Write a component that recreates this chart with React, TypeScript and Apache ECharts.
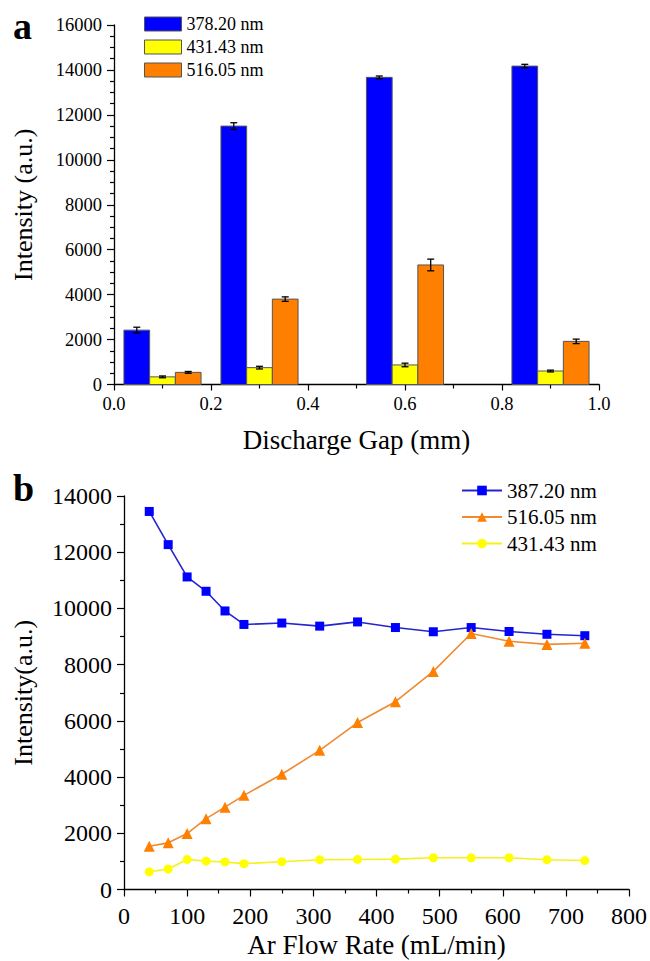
import React, { useEffect, useRef } from 'react';
import * as echarts from 'echarts';

const FONT = 'Liberation Serif';

// Panel a: discharge gap (mm)
const gaps = [0.1, 0.3, 0.6, 0.9];
const v378 = [2420, 11500, 13670, 14170];
const e378 = [130, 150, 60, 80];
const v431 = [340, 750, 870, 600];
const e431 = [40, 60, 80, 40];
const v516 = [540, 3800, 5320, 1920];
const e516 = [40, 100, 260, 100];

// Panel b: Ar flow rate (mL/min)
const flowRates = [40, 70, 100, 130, 160, 190, 250, 310, 370, 430, 490, 550, 610, 670, 730];
const s387 = [13450, 12270, 11120, 10610, 9910, 9430, 9480, 9370, 9520, 9320, 9170, 9320, 9180, 9080, 9030];
const s516 = [1540, 1660, 1990, 2520, 2930, 3350, 4100, 4950, 5940, 6680, 7760, 9110, 8830, 8720, 8760];
const s431 = [630, 730, 1070, 1010, 980, 920, 990, 1060, 1070, 1080, 1130, 1130, 1130, 1060, 1030];

const BAR_W = 0.053;

function barSeries(name: string, vals: number[], errs: number[], color: string, idx: number) {
  return {
    type: 'custom',
    name,
    xAxisIndex: 0,
    yAxisIndex: 0,
    itemStyle: { color, borderColor: '#555', borderWidth: 1 },
    encode: { x: 0, y: 1 },
    data: gaps.map((g, i) => [g, vals[i], errs[i]]),
    renderItem: (params: any, api: any) => {
      const x = api.value(0);
      const v = api.value(1);
      const e = api.value(2);
      const w = api.size([BAR_W, 0])[0];
      const base = api.coord([x, 0]);
      const top = api.coord([x, v]);
      const cx = base[0] + idx * w;
      const hi = api.coord([x, v + e])[1];
      const lo = api.coord([x, v - e])[1];
      const cap = 3.5;
      return {
        type: 'group',
        children: [
          {
            type: 'rect',
            shape: { x: cx - w / 2, y: top[1], width: w, height: base[1] - top[1] },
            style: { fill: color, stroke: '#555', lineWidth: 1 },
          },
          { type: 'line', shape: { x1: cx, y1: hi, x2: cx, y2: lo }, style: { stroke: '#000', lineWidth: 1.3 } },
          { type: 'line', shape: { x1: cx - cap, y1: hi, x2: cx + cap, y2: hi }, style: { stroke: '#000', lineWidth: 1.3 } },
          { type: 'line', shape: { x1: cx - cap, y1: lo, x2: cx + cap, y2: lo }, style: { stroke: '#000', lineWidth: 1.3 } },
        ],
      };
    },
  };
}

const axisCommon = {
  axisLine: { show: true, onZero: false, lineStyle: { color: '#000', width: 1.3 } },
  splitLine: { show: false },
};

const plain = (v: number) => String(v);

export default function App() {
  const ref = useRef<HTMLDivElement>(null);
  useEffect(() => {
    const chart = echarts.init(ref.current as HTMLDivElement, null, { renderer: 'svg' });
    const option: any = {
      animation: false,
      backgroundColor: '#fff',
      textStyle: { fontFamily: FONT, color: '#000' },
      grid: [
        { left: 114, right: 51, top: 25, height: 359.5 },
        { left: 124, right: 21, top: 496, height: 393.5 },
      ],
      xAxis: [
        {
          type: 'value', gridIndex: 0, min: 0, max: 1, interval: 0.2,
          ...axisCommon,
          axisTick: { show: true, inside: false, length: 6, lineStyle: { color: '#000', width: 1.2 } },
          minorTick: { show: true, splitNumber: 2, length: 4, lineStyle: { color: '#000', width: 1.2 } },
          axisLabel: { fontFamily: FONT, fontSize: 18.5, color: '#000', margin: 10, formatter: (v: number) => v.toFixed(1) },
          name: 'Discharge Gap (mm)', nameLocation: 'middle', nameGap: 42,
          nameTextStyle: { fontFamily: FONT, fontSize: 27, color: '#000' },
        },
        {
          type: 'value', gridIndex: 1, min: 0, max: 800, interval: 100,
          ...axisCommon,
          axisTick: { show: true, inside: false, length: 7, lineStyle: { color: '#000', width: 1.2 } },
          minorTick: { show: true, splitNumber: 2, length: 4, lineStyle: { color: '#000', width: 1.2 } },
          axisLabel: { fontFamily: FONT, fontSize: 24, color: '#000', margin: 14, formatter: plain },
          name: 'Ar Flow Rate (mL/min)', nameLocation: 'middle', nameGap: 42,
          nameTextStyle: { fontFamily: FONT, fontSize: 27, color: '#000' },
        },
      ],
      yAxis: [
        {
          type: 'value', gridIndex: 0, min: 0, max: 16000, interval: 2000,
          ...axisCommon,
          axisTick: { show: true, inside: false, length: 7, lineStyle: { color: '#000', width: 1.2 } },
          minorTick: { show: true, splitNumber: 4, length: 4, lineStyle: { color: '#000', width: 1.2 } },
          axisLabel: { fontFamily: FONT, fontSize: 18.5, color: '#000', margin: 12, formatter: plain },
          name: 'Intensity (a.u.)', nameLocation: 'middle', nameGap: 78,
          nameTextStyle: { fontFamily: FONT, fontSize: 26, color: '#000' },
        },
        {
          type: 'value', gridIndex: 1, min: 0, max: 14000, interval: 2000,
          ...axisCommon,
          axisTick: { show: true, inside: false, length: 7, lineStyle: { color: '#000', width: 1.2 } },
          minorTick: { show: true, splitNumber: 2, length: 4, lineStyle: { color: '#000', width: 1.2 } },
          axisLabel: { fontFamily: FONT, fontSize: 24, color: '#000', margin: 12, formatter: plain },
          name: 'Intensity(a.u.)', nameLocation: 'middle', nameGap: 88,
          nameTextStyle: { fontFamily: FONT, fontSize: 26, color: '#000' },
        },
      ],
      legend: [
        {
          orient: 'vertical', left: 139, top: 10, itemWidth: 37, itemHeight: 14, itemGap: 5,
          icon: 'rect', selectedMode: false,
          textStyle: { fontFamily: FONT, fontSize: 18, color: '#000' },
          itemStyle: { borderColor: '#555', borderWidth: 1 },
          data: ['378.20 nm', '431.43 nm', '516.05 nm'],
        },
        {
          orient: 'vertical', left: 456, top: 475, itemWidth: 40, itemHeight: 12, itemGap: 5.5,
          selectedMode: false,
          textStyle: { fontFamily: FONT, fontSize: 21, color: '#000' },
          formatter: (n: string) => n.replace(/^b:/, ''),
          data: ['b:387.20 nm', 'b:516.05 nm', 'b:431.43 nm'],
        },
      ],
      graphic: [
        { type: 'text', left: 13, top: 7, style: { text: 'a', font: `bold 38px ${FONT}`, fill: '#000' } },
        { type: 'text', left: 13, top: 469, style: { text: 'b', font: `bold 38px ${FONT}`, fill: '#000' } },
      ],
      series: [
        barSeries('378.20 nm', v378, e378, '#0000ff', -1),
        barSeries('431.43 nm', v431, e431, '#ffff00', 0),
        barSeries('516.05 nm', v516, e516, '#ff8000', 1),
        {
          type: 'line', name: 'b:387.20 nm', xAxisIndex: 1, yAxisIndex: 1,
          data: flowRates.map((x, i) => [x, s387[i]]),
          symbol: 'rect', symbolSize: 9,
          lineStyle: { color: '#2424d0', width: 1.6 },
          itemStyle: { color: '#0000ff' },
        },
        {
          type: 'line', name: 'b:516.05 nm', xAxisIndex: 1, yAxisIndex: 1,
          data: flowRates.map((x, i) => [x, s516[i]]),
          symbol: 'triangle', symbolSize: 11,
          lineStyle: { color: '#f08a30', width: 1.6 },
          itemStyle: { color: '#ff7f00' },
        },
        {
          type: 'line', name: 'b:431.43 nm', xAxisIndex: 1, yAxisIndex: 1,
          data: flowRates.map((x, i) => [x, s431[i]]),
          symbol: 'circle', symbolSize: 9,
          lineStyle: { color: '#f5f020', width: 1.6 },
          itemStyle: { color: '#ffff00' },
        },
      ],
    };
    chart.setOption(option);
    return () => chart.dispose();
  }, []);
  return <div ref={ref} style={{ position: 'absolute', left: 0, top: 0, width: 650, height: 961 }} />;
}
